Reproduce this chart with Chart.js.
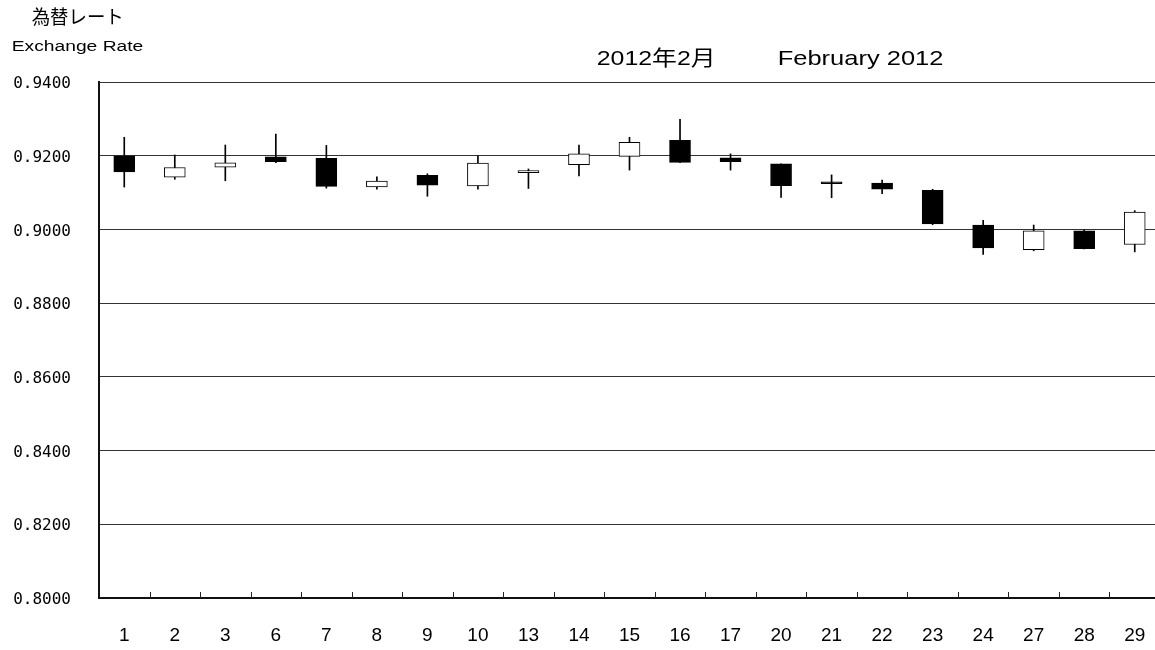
<!DOCTYPE html>
<html>
<head>
<meta charset="utf-8">
<script src="https://cdn.jsdelivr.net/npm/chart.js@4"></script>
<style>
html,body{margin:0;padding:0;background:#fff;overflow:hidden;}
#wrap{width:1155px;height:650px;overflow:hidden;position:relative;}
</style>
</head>
<body>
<div id="wrap"><canvas id="c" width="1161" height="650" style="width:1161px;height:650px"></canvas></div>
<script>
const labels = ['1','2','3','6','7','8','9','10','13','14','15','16','17','20','21','22','23','24','27','28','29'];
const openV  = [0.9200,0.9142,0.9169,0.9197,0.9193,0.9115,0.9147,0.9118,0.9154,0.9176,0.9198,0.9242,0.9194,0.9178,0.9124,0.9126,0.9106,0.9012,0.8945,0.8996,0.8959];
const highV  = [0.9250,0.9202,0.9229,0.9259,0.9228,0.9143,0.9151,0.9200,0.9164,0.9229,0.9250,0.9299,0.9205,0.9178,0.9148,0.9134,0.9109,0.9025,0.9012,0.8999,0.9051];
const lowV   = [0.9115,0.9136,0.9132,0.9181,0.9112,0.9109,0.9090,0.9109,0.9111,0.9145,0.9161,0.9181,0.9161,0.9087,0.9086,0.9097,0.9013,0.8932,0.8942,0.8947,0.8939];
const closeV = [0.9156,0.9168,0.9181,0.9184,0.9117,0.9131,0.9120,0.9180,0.9160,0.9205,0.9236,0.9182,0.9184,0.9119,0.9124,0.9109,0.9015,0.8950,0.8996,0.8948,0.9047];
const yMin = 0.80, yMax = 0.94, yStep = 0.02;

const bodies = labels.map((_, i) => [openV[i], closeV[i]]);
const wicks = labels.map((_, i) => [lowV[i], highV[i]]);
const bodyColors = labels.map((_, i) => closeV[i] > openV[i] ? '#ffffff' : '#000000');

function fitText(ctx, text, x, y, font, w, baseline) {
  ctx.save();
  ctx.font = font;
  ctx.fillStyle = '#000';
  ctx.textAlign = 'left';
  ctx.textBaseline = baseline || 'alphabetic';
  const m = ctx.measureText(text).width;
  ctx.translate(x, y);
  ctx.scale(w / m, 1);
  ctx.fillText(text, 0, 0);
  ctx.restore();
}

const extras = {
  id: 'extras',
  afterDraw(chart) {
    const ctx = chart.ctx;
    const xs = chart.scales.x;
    const area = chart.chartArea;
    ctx.save();
    ctx.strokeStyle = '#222';
    ctx.lineWidth = 1;
    for (let i = 1; i < labels.length; i++) {
      const px = Math.round((xs.getPixelForValue(i - 1) + xs.getPixelForValue(i)) / 2) + 0.5;
      ctx.beginPath();
      ctx.moveTo(px, area.bottom);
      ctx.lineTo(px, area.bottom - 6);
      ctx.stroke();
    }
    ctx.restore();
    fitText(ctx, '為替レート', 31.7, 16.5, '19px "Noto Sans CJK JP"', 92, 'middle');
    fitText(ctx, 'Exchange Rate', 11.7, 50.7, '14px "Liberation Sans"', 131.6);
    fitText(ctx, '2012年2月', 596.7, 65, '21px "Liberation Sans", "Noto Sans CJK JP"', 119);
    fitText(ctx, 'February 2012', 777.7, 65, '21px "Liberation Sans"', 165.7);
  }
};

new Chart(document.getElementById('c'), {
  type: 'bar',
  data: {
    labels: labels,
    datasets: [
      {
        data: bodies,
        backgroundColor: bodyColors,
        borderColor: '#000',
        borderWidth: 1,
        borderSkipped: false,
        barThickness: 21,
        minBarLength: 2,
        grouped: false,
        order: 0
      },
      {
        data: wicks,
        backgroundColor: '#000',
        borderWidth: 0,
        barThickness: 1,
        grouped: false,
        order: 1
      }
    ]
  },
  options: {
    responsive: false,
    devicePixelRatio: 1,
    animation: false,
    layout: { padding: { left: 0, right: 1, top: 82, bottom: 0 } },
    plugins: { legend: { display: false }, tooltip: { enabled: false }, title: { display: false } },
    scales: {
      x: {
        offset: true,
        grid: { display: false, drawTicks: false },
        border: { display: true, color: '#111', width: 2 },
        ticks: { color: '#000', font: { family: 'Liberation Sans', size: 19 }, padding: 26, maxRotation: 0, autoSkip: false },
        afterFit(s) { s.height = 52; s.paddingLeft = 0; s.paddingRight = 0; }
      },
      y: {
        min: yMin,
        max: yMax,
        grid: { color: '#333', lineWidth: 1, drawTicks: false },
        border: { display: true, color: '#111', width: 2 },
        ticks: {
          stepSize: yStep,
          color: '#000',
          font: { family: 'DejaVu Sans Mono', size: 16 },
          padding: 28,
          labelOffset: 2,
          callback: v => Number(v).toFixed(4)
        },
        afterFit(s) { s.width = 99; s.paddingTop = 0; s.paddingBottom = 0; }
      }
    }
  },
  plugins: [extras]
});
</script>
</body>
</html>
